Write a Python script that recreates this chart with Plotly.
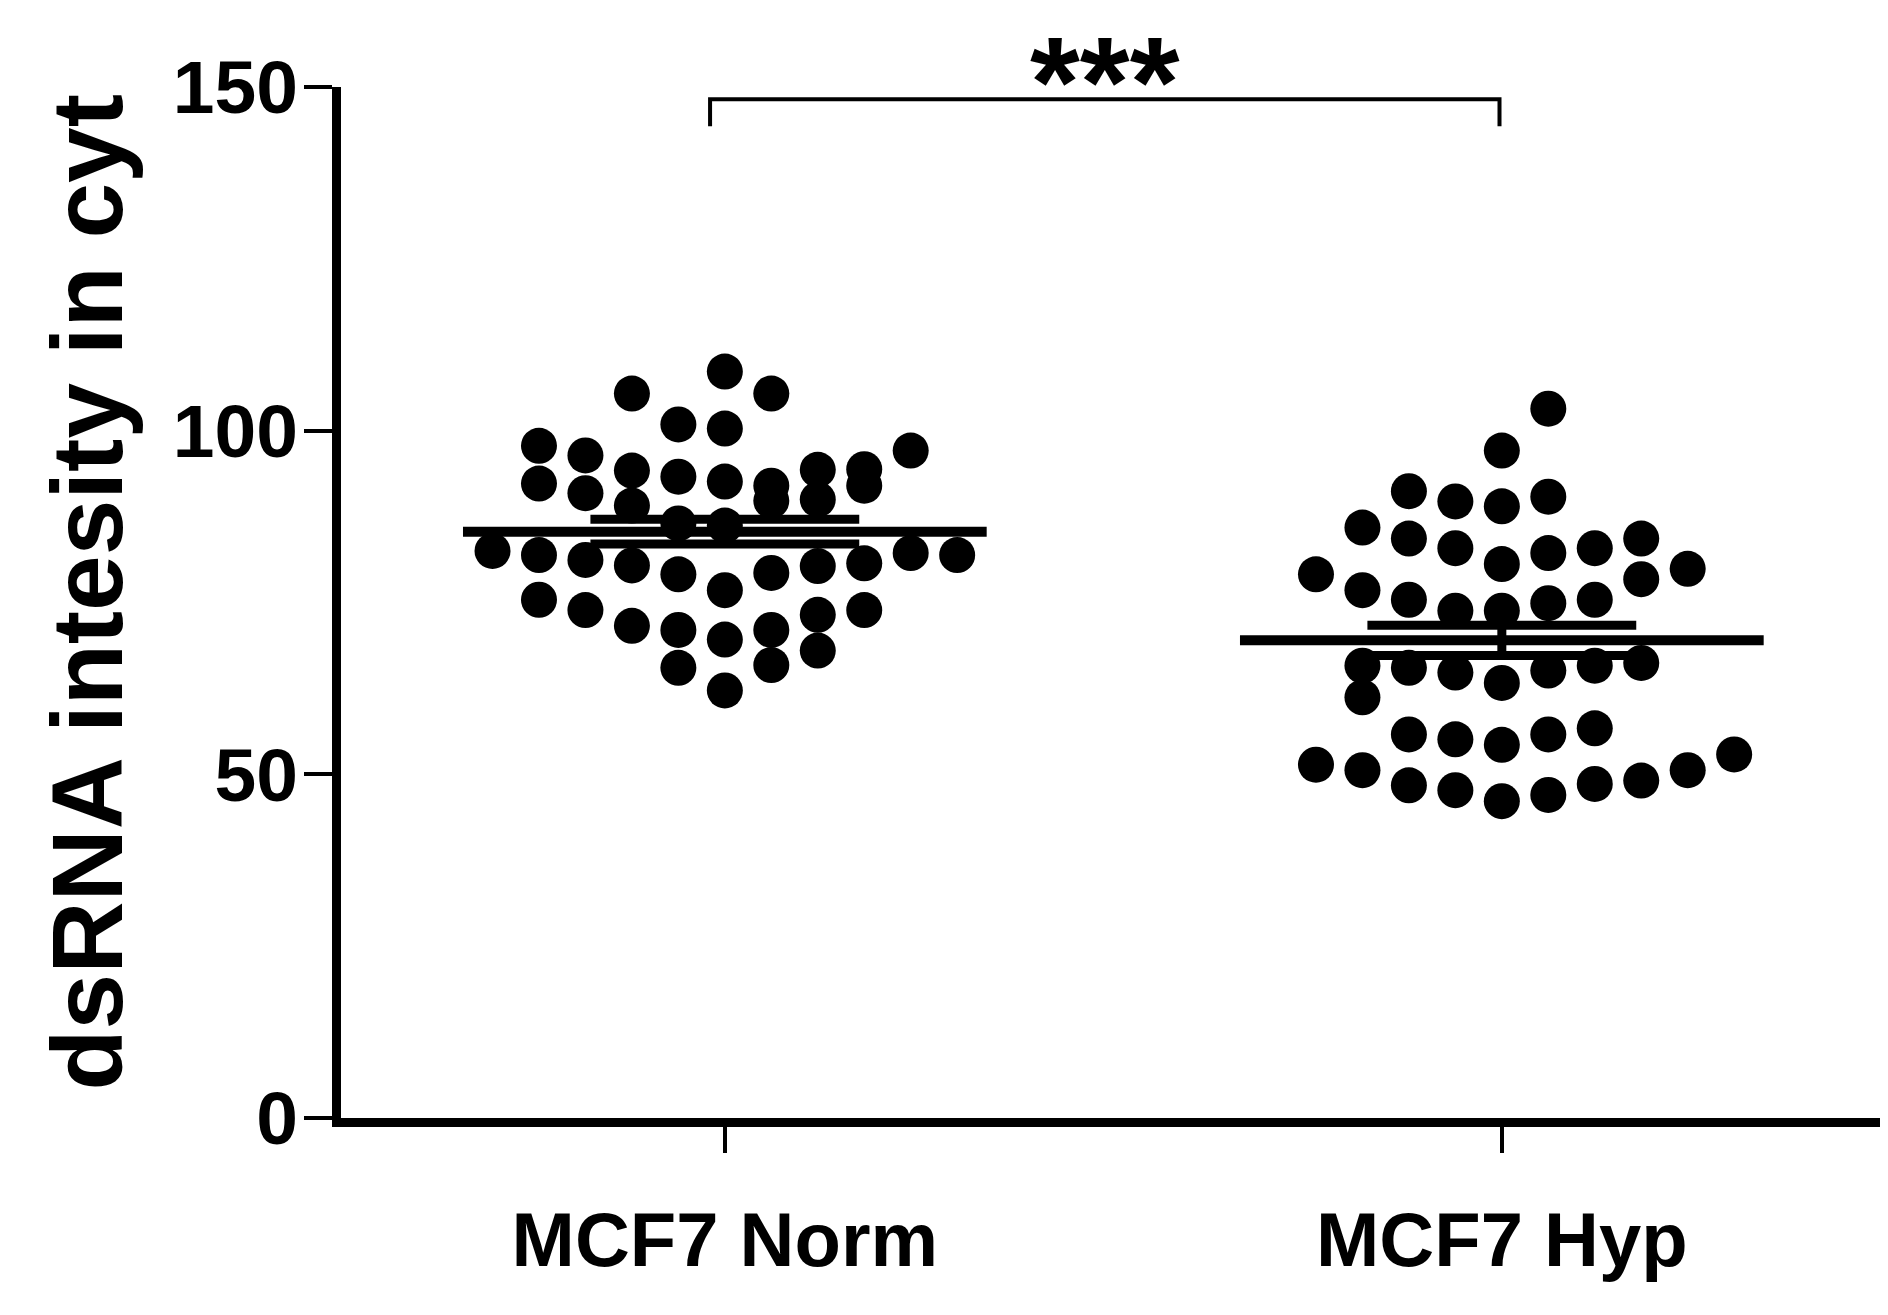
import plotly.graph_objects as go

# ---------------- data ----------------
categories = ["MCF7 Norm", "MCF7 Hyp"]

# values listed column by column of the scatter swarm; slot = swarm column (-5 .. +5)
norm_values = [82.5,
               97.8, 92.3, 81.9, 75.4,
               96.4, 90.9, 81.2, 73.9,
               105.4, 94.2, 89.1, 80.4, 71.6,
               100.9, 93.3, 86.5, 79.1, 71.0, 65.5,
               108.6, 100.3, 92.6, 86.2, 76.8, 69.6, 62.2,
               105.4, 92.0, 89.8, 79.3, 71.0, 65.9,
               94.3, 90.0, 80.3, 73.2, 68.0,
               94.4, 92.0, 80.7, 73.9,
               97.1, 82.2,
               81.9]
norm_slots = [-5,
              -4, -4, -4, -4,
              -3, -3, -3, -3,
              -2, -2, -2, -2, -2,
              -1, -1, -1, -1, -1, -1,
              0, 0, 0, 0, 0, 0, 0,
              1, 1, 1, 1, 1, 1,
              2, 2, 2, 2, 2,
              3, 3, 3, 3,
              4, 4,
              5]

hyp_values = [79.1, 51.4,
              85.9, 76.8, 65.8, 61.2, 50.6,
              91.2, 84.3, 75.4, 65.5, 55.8, 48.4,
              89.7, 82.9, 73.8, 64.8, 55.1, 47.7,
              97.1, 89.0, 80.6, 73.8, 63.3, 54.3, 46.1,
              103.2, 90.4, 82.2, 74.9, 65.1, 55.8, 47.0,
              82.9, 75.4, 65.8, 56.7, 48.6,
              84.3, 78.4, 66.2, 49.1,
              79.9, 50.6,
              52.9]
hyp_slots = [-4, -4,
             -3, -3, -3, -3, -3,
             -2, -2, -2, -2, -2, -2,
             -1, -1, -1, -1, -1, -1,
             0, 0, 0, 0, 0, 0, 0,
             1, 1, 1, 1, 1, 1, 1,
             2, 2, 2, 2, 2,
             3, 3, 3, 3,
             4, 4,
             5]

group_means = [85.3, 69.5]
group_sems = [1.8, 2.2]

y_ticks = [0, 50, 100, 150]
y_title = "dsRNA intesity in cyt"
sig_label = "***"

# ---------------- layout constants ----------------
SLOT_W = 0.0598      # swarm column spacing (category units)
MEAN_HALF = 0.337
SEM_HALF = 0.173
FONT = "Liberation Sans"
BODY = 8             # default page body margin of the html page

fig = go.Figure()

groups = [(norm_values, norm_slots), (hyp_values, hyp_slots)]
for gi, (vals, slots) in enumerate(groups):
    fig.add_trace(go.Scatter(
        x=[gi + s * SLOT_W for s in slots], y=vals,
        mode="markers",
        marker=dict(size=36, color="black", line=dict(width=0)),
        showlegend=False, hoverinfo="y"))

for gi, (m, s) in enumerate(zip(group_means, group_sems)):
    # mean line
    fig.add_trace(go.Scatter(x=[gi - MEAN_HALF, gi + MEAN_HALF], y=[m, m],
                             mode="lines", line=dict(color="black", width=10),
                             showlegend=False, hoverinfo="skip"))
    # SEM caps + vertical bar
    fig.add_trace(go.Scatter(
        x=[gi - SEM_HALF, gi + SEM_HALF, None, gi - SEM_HALF, gi + SEM_HALF, None, gi, gi],
        y=[m + s, m + s, None, m - s, m - s, None, m - s, m + s],
        mode="lines", line=dict(color="black", width=9),
        showlegend=False, hoverinfo="skip"))

fig.update_layout(
    width=1888 - BODY, height=1315 - BODY, autosize=False,
    margin=dict(l=341 - BODY, r=0, t=87 - BODY, b=197, pad=0, autoexpand=False),
    paper_bgcolor="white", plot_bgcolor="white",
    showlegend=False,
    xaxis=dict(range=[-0.494, 1.497], tickmode="array", tickvals=[0, 1],
               ticktext=categories, showline=True, linewidth=9, linecolor="black",
               ticks="outside", ticklen=26, tickwidth=4, tickcolor="black",
               showgrid=False, zeroline=False, ticklabelstandoff=22, automargin=False,
               tickfont=dict(family=FONT, size=76, color="black", weight="bold")),
    yaxis=dict(range=[0, 150], tickmode="array", tickvals=y_ticks,
               showline=True, linewidth=9, linecolor="black",
               ticks="outside", ticklen=28, tickwidth=4, tickcolor="black",
               showgrid=False, zeroline=False, ticklabelstandoff=-9, automargin=False,
               tickfont=dict(family=FONT, size=75, color="black", weight="bold")),
)

# y-axis title (as rotated annotation for precise placement)
fig.add_annotation(text=y_title, xref="paper", yref="paper", x=-0.164, y=0.510,
                   textangle=-90, showarrow=False, xanchor="center", yanchor="middle",
                   font=dict(family=FONT, size=100, color="black", weight="bold"))

# significance bracket
fig.add_shape(type="path", xref="x", yref="y",
              path="M -0.019,144.3 L -0.019,148.2 L 0.997,148.2 L 0.997,144.3",
              line=dict(color="black", width=4))
fig.add_annotation(text=sig_label, xref="x", yref="paper", x=0.489, y=1.0,
                   showarrow=False, xanchor="center", yanchor="bottom", yshift=-68,
                   font=dict(family=FONT, size=128, color="black", weight="bold"))

fig.write_html("out.html")
